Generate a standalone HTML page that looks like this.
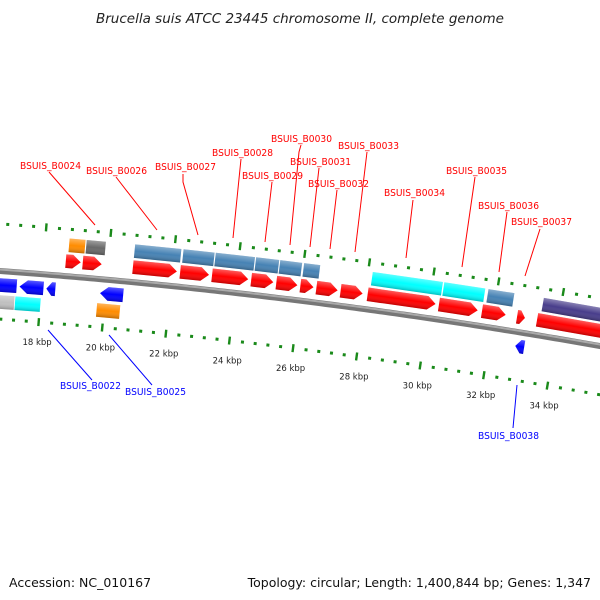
<!DOCTYPE html>
<html><head><meta charset="utf-8">
<style>
html,body{margin:0;padding:0;background:#fff;}
svg{display:block;font-family:"DejaVu Sans","Liberation Sans",sans-serif;}
</style></head>
<body>
<svg id="map" width="600" height="600" viewBox="0 0 600 600" xmlns="http://www.w3.org/2000/svg">
<defs>
<linearGradient id="gshade" x1="0" y1="0" x2="0" y2="1">
<stop offset="0" stop-color="#fff" stop-opacity="0.35"/>
<stop offset="0.5" stop-color="#fff" stop-opacity="0"/>
<stop offset="1" stop-color="#000" stop-opacity="0.25"/>
</linearGradient>
</defs>
<text x="300" y="23" text-anchor="middle" font-size="13.5" font-style="italic" fill="#222">Brucella suis ATCC 23445 chromosome II, complete genome</text>
<g id="ticks"></g>
<g id="backbone"></g>
<g id="features"></g>
<g id="labels"></g>
<text x="9" y="587" font-size="12.5" fill="#111">Accession: NC_010167</text>
<text x="591" y="587" font-size="12.5" text-anchor="end" fill="#111">Topology: circular; Length: 1,400,844 bp; Genes: 1,347</text>
</svg>
<script>
// data (kbp)
const fwdGenes = [[18.67,19.17],[19.20,19.82],[20.76,22.16],[22.23,23.16],[23.22,24.38],[24.44,25.16],[25.22,25.91],[25.97,26.41],[26.47,27.16],[27.22,27.94],[28.06,30.21],[30.28,31.52],[31.62,32.39],[32.71,32.99],[33.33,36.5]];
const revGenes = [[15.5,17.24],[17.30,18.08],[18.14,18.45],[19.82,20.57],[32.80,33.11]];
const topTrack = [[18.73,19.26,'#ff8c00'],[19.26,19.89,'#696969'],[20.76,22.23,'#4682b4'],[22.26,23.26,'#4682b4'],[23.26,24.51,'#4682b4'],[24.51,25.26,'#4682b4'],[25.26,25.97,'#4682b4'],[26.00,26.53,'#4682b4'],[28.12,30.34,'#00ffff'],[30.34,31.65,'#00ffff'],[31.71,32.55,'#4682b4'],[33.42,36.5,'#483d8b']];
const lowTrack = [[15.5,17.20,'#c0c0c0'],[17.20,18.02,'#00ffff'],[19.76,20.51,'#ff8c00']];
const tickLabels = [18,20,22,24,26,28,30,32,34];
const labelsTop = [
 ['BSUIS_B0024',20,169,[[49,172],[95,225]]],
 ['BSUIS_B0026',86,174,[[116,177],[157,230]]],
 ['BSUIS_B0027',155,170,[[183,174],[183,182],[198,235]]],
 ['BSUIS_B0028',212,156,[[241,159],[233,238]]],
 ['BSUIS_B0029',242,179,[[272,182],[265,242]]],
 ['BSUIS_B0030',271,142,[[301,145],[299,152],[290,245]]],
 ['BSUIS_B0031',290,165,[[319,168],[310,247]]],
 ['BSUIS_B0032',308,187,[[337,190],[330,249]]],
 ['BSUIS_B0033',338,149,[[367,152],[355,252]]],
 ['BSUIS_B0034',384,196,[[413,200],[406,258]]],
 ['BSUIS_B0035',446,174,[[475,177],[462,267]]],
 ['BSUIS_B0036',478,209,[[507,212],[499,272]]],
 ['BSUIS_B0037',511,225,[[540,229],[525,276]]]
];
const labelsBot = [
 ['BSUIS_B0022',60,389,[[48,330],[92,380]]],
 ['BSUIS_B0025',125,395,[[109,335],[152,385]]],
 ['BSUIS_B0038',478,439,[[517,385],[513,428]]]
];
const NS='http://www.w3.org/2000/svg';
function bx(k){return 42.5+(k-18)*32.06;}
function by(x){return 271+0.0726*x+0.0000875*x*x;}
function slope(x){return 0.0726+0.000175*x;}
function place(k,off){const x=bx(k),y=by(x),s=slope(x),n=Math.sqrt(1+s*s);return [x-off*s/n, y+off/n];}
function mk(tag,attrs,parent){const e=document.createElementNS(NS,tag);for(const a in attrs)e.setAttribute(a,attrs[a]);parent.appendChild(e);return e;}
const gT=document.getElementById('ticks'),gB=document.getElementById('backbone'),gF=document.getElementById('features'),gL=document.getElementById('labels');
// backbone
let d='';for(let x=-5;x<=605;x+=5){d+=(x<0?'M':'L')+x+','+by(x).toFixed(2);}
let bb1=mk('path',{d:d,stroke:'#777','stroke-width':6,fill:'none'},gB);


let bb2=mk('path',{d:d,stroke:'#aaa','stroke-width':2,fill:'none',transform:'translate(0,-1.5)'},gB);


// ticks
for(let i=0;i<=60;i++){const k=14.8+i*0.4;const major=Math.abs((k/2)-Math.round(k/2))<0.01;
 [-47,48].forEach(off=>{const p=place(k,off);const x=p[0];if(x<-5||x>605)return;const ang=Math.atan(slope(bx(k)))*180/Math.PI;
  const h=major?8:3;
  const r=mk('rect',{x:-1.2,y:-h/2,width:major?2.4:3,height:h,fill:'#1a8a1a',transform:`translate(${p[0].toFixed(2)},${p[1].toFixed(2)}) rotate(${ang.toFixed(2)})`},gT);
  
  
 });}
tickLabels.forEach(k=>{const p=place(k,68);const t=mk('text',{x:p[0].toFixed(1),y:(p[1]+3).toFixed(1),'text-anchor':'middle','font-size':'8.5',fill:'#222'},gT);t.textContent=k+' kbp';
 
 });
// features
function feature(k1,k2,off,color,dir,name){const xm=(bx(k1)+bx(k2))/2;const km=(k1+k2)/2;const p=place(km,off);const s=slope(xm);const ang=Math.atan(s)*180/Math.PI;
 const w=(bx(k2)-bx(k1))*Math.sqrt(1+s*s)-1;const h=13.5;const a=Math.min(8,w*0.6);let pts;
 if(dir>0)pts=[[-w/2,-h/2],[w/2-a,-h/2],[w/2,0],[w/2-a,h/2],[-w/2,h/2]];
 else if(dir<0)pts=[[w/2,-h/2],[-w/2+a,-h/2],[-w/2,0],[-w/2+a,h/2],[w/2,h/2]];
 else pts=[[-w/2,-h/2],[w/2,-h/2],[w/2,h/2],[-w/2,h/2]];
 const g=mk('g',{transform:`translate(${p[0].toFixed(2)},${p[1].toFixed(2)}) rotate(${ang.toFixed(2)})`},gF);
 
 
 const ps=pts.map(q=>q[0].toFixed(1)+','+q[1].toFixed(1)).join(' ');
 mk('polygon',{points:ps,fill:color},g);mk('polygon',{points:ps,fill:'url(#gshade)'},g);}
topTrack.forEach(f=>feature(f[0],f[1],-31,f[2],0,'top-track-feature'));
fwdGenes.forEach(f=>feature(f[0],f[1],-15,'#ff0000',1,'forward-gene'));
revGenes.forEach(f=>feature(f[0],f[1],14,'#0000ff',-1,'reverse-gene'));
lowTrack.forEach(f=>feature(f[0],f[1],31,f[2],0,'bottom-track-feature'));
// labels
function lab(arr,color){arr.forEach(l=>{const pl=mk('polyline',{points:l[3].map(q=>q.join(',')).join(' '),stroke:color,'stroke-width':1,fill:'none'},gL);
 
 
 const t=mk('text',{x:l[1],y:l[2],'font-size':'10',fill:color,textLength:61,lengthAdjust:'spacingAndGlyphs'},gL);t.textContent=l[0];
 
 });}
lab(labelsTop,'#ff0000');lab(labelsBot,'#0000ff');
</script>
</body></html>
